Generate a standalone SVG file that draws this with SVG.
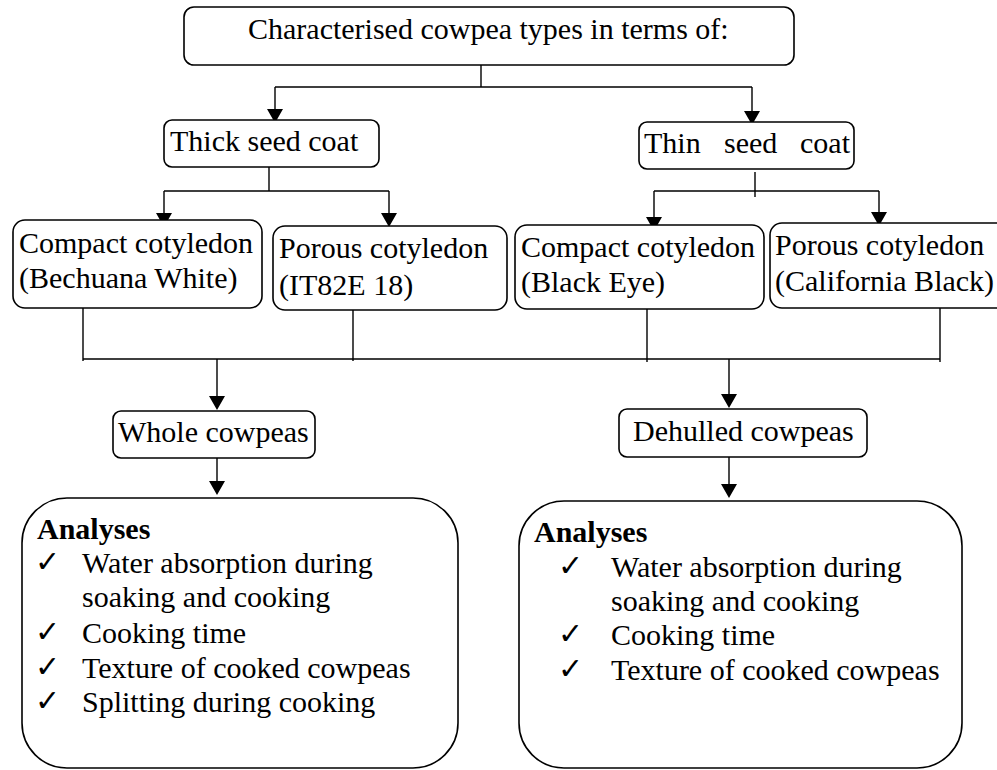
<svg xmlns="http://www.w3.org/2000/svg" width="997" height="770" viewBox="0 0 997 770">
<style>
.box{fill:#fff;stroke:#000;stroke-width:1.6}
.t{font-family:"Liberation Serif","Times New Roman",serif;font-size:30px;fill:#000}
.b{font-weight:bold}
.ck{font-family:"DejaVu Sans",sans-serif;font-size:30px;fill:#000}
.ln{fill:none;stroke:#000;stroke-width:1.4}
.ah{fill:#000}
</style>
<rect width="997" height="770" fill="#fff"/>
<g id="connectors">
<path class="ln" d="M481,65 V87 M275,87 H752 M275,87 V110 M752,87 V112"/>
<path class="ah" d="M267,109 H283 L275,123 Z M744,111 H760 L752,125 Z"/>
<path class="ln" d="M269,167 V191 M164,191 H389 M164,191 V214 M389,191 V214"/>
<path class="ah" d="M156,213 H172 L164,227 Z M381,213 H397 L389,227 Z"/>
<path class="ln" d="M755,172 V197 M654,191 H879 M654,191 V218 M879,191 V213"/>
<path class="ah" d="M646,217 H662 L654,231 Z M871,212 H887 L879,226 Z"/>
<path class="ln" d="M83,305 V361 M353,305 V361 M647,305 V362 M940,308 V362 M83,359 H940"/>
<path class="ln" d="M217,359 V397 M729,359 V395"/>
<path class="ah" d="M209,396 H225 L217,410 Z M721,394 H737 L729,408 Z"/>
<path class="ln" d="M217,458 V482 M729,457 V485"/>
<path class="ah" d="M209,481 H225 L217,495 Z M721,484 H737 L729,498 Z"/>
</g>
<g id="top">
<rect class="box" x="184" y="7" width="610" height="58" rx="10"/>
<text class="t" x="248" y="39">Characterised cowpea types in terms of:</text>
</g>
<g id="thick">
<rect class="box" x="164" y="120" width="215" height="47" rx="8"/>
<text class="t" x="170" y="151">Thick seed coat</text>
</g>
<g id="thin">
<rect class="box" x="639" y="122" width="215" height="47" rx="8"/>
<text class="t" y="153"><tspan x="644">Thin</tspan><tspan x="724">seed</tspan><tspan x="800">coat</tspan></text>
</g>
<g id="compact1">
<rect class="box" x="13" y="220" width="249" height="88" rx="12"/>
<text class="t" x="19" y="253">Compact cotyledon</text>
<text class="t" x="19" y="288">(Bechuana White)</text>
</g>
<g id="porous1">
<rect class="box" x="273" y="226" width="234" height="84" rx="12"/>
<text class="t" x="279" y="258">Porous cotyledon</text>
<text class="t" x="279" y="295">(IT82E 18)</text>
</g>
<g id="compact2">
<rect class="box" x="515" y="225" width="249" height="84" rx="12"/>
<text class="t" x="521" y="257">Compact cotyledon</text>
<text class="t" x="521" y="292">(Black Eye)</text>
</g>
<g id="porous2">
<rect class="box" x="770" y="223" width="240" height="85" rx="12"/>
<text class="t" x="775" y="255">Porous cotyledon</text>
<text class="t" x="775" y="291">(California Black)</text>
</g>
<g id="whole">
<rect class="box" x="113" y="411" width="202" height="47" rx="8"/>
<text class="t" x="118" y="442">Whole cowpeas</text>
</g>
<g id="dehulled">
<rect class="box" x="619" y="409" width="248" height="48" rx="8"/>
<text class="t" x="633" y="441">Dehulled cowpeas</text>
</g>
<g id="analyses1">
<rect class="box" x="22" y="498" width="436" height="270" rx="45"/>
<text class="t b" x="37" y="539">Analyses</text>
<text class="ck" x="35" y="572">✓</text>
<text class="t" x="82" y="573">Water absorption during</text>
<text class="t" x="82" y="607">soaking and cooking</text>
<text class="ck" x="35" y="642">✓</text>
<text class="t" x="82" y="643">Cooking time</text>
<text class="ck" x="35" y="677">✓</text>
<text class="t" x="82" y="678">Texture of cooked cowpeas</text>
<text class="ck" x="35" y="711">✓</text>
<text class="t" x="82" y="712">Splitting during cooking</text>
</g>
<g id="analyses2">
<rect class="box" x="519" y="501" width="443" height="267" rx="45"/>
<text class="t b" x="534" y="542">Analyses</text>
<text class="ck" x="558" y="576">✓</text>
<text class="t" x="611" y="577">Water absorption during</text>
<text class="t" x="611" y="611">soaking and cooking</text>
<text class="ck" x="558" y="644">✓</text>
<text class="t" x="611" y="645">Cooking time</text>
<text class="ck" x="558" y="679">✓</text>
<text class="t" x="611" y="680">Texture of cooked cowpeas</text>
</g>
</svg>
